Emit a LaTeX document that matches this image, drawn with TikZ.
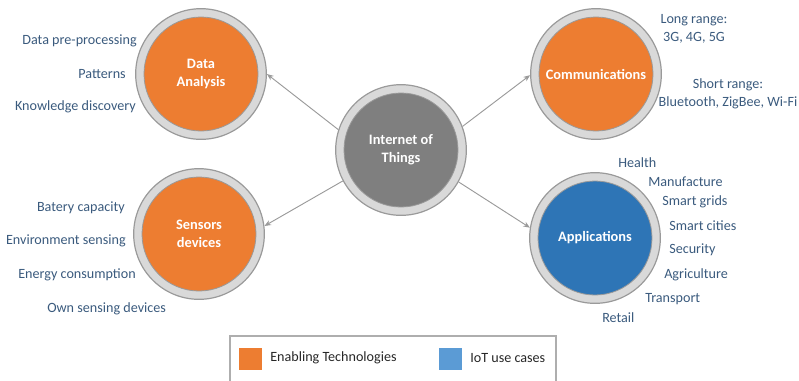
\documentclass[tikz,border=0pt]{standalone}
\usepackage{fontspec}
\setmainfont{Carlito}
\usepackage{tikz}
\usetikzlibrary{arrows.meta,positioning}

\definecolor{ringgray}{HTML}{D9D9D9}
\definecolor{ringline}{HTML}{9A9A9A}
\definecolor{techorange}{HTML}{ED7D31}
\definecolor{appblue}{HTML}{2E75B6}
\definecolor{legblue}{HTML}{5B9BD5}
\definecolor{hubgray}{HTML}{7F7F7F}
\definecolor{labelblue}{HTML}{3A5A7D}

\tikzset{
  ring/.style={circle,draw=ringline,line width=0.9pt,fill=ringgray,minimum size=98pt,inner sep=0pt},
  core/.style={circle,draw=ringline,line width=0.6pt,minimum size=85.5pt,inner sep=0pt,
               text=white,font=\fontsize{10.8}{13.5}\selectfont\bfseries,align=center},
  item/.style={text=labelblue,font=\fontsize{10.6}{13.5}\selectfont,inner sep=0pt},
  link/.style={draw=ringline,line width=0.7pt,-{Stealth[length=5pt,width=4pt]}},
  legkey/.style={minimum width=17pt,minimum height=16.5pt,inner sep=0pt},
}

\begin{document}
\begin{tikzpicture}[x=0.75pt,y=-0.75pt]
	\useasboundingbox (0,0) rectangle (799,380);
	% circles
	\node[ring] (iot) at (401,150) {};
	\node[core,fill=hubgray] (iotin) at (401,150) {Internet of\\Things};
	\node[ring] (data) at (201,74) {};
	\node[core,fill=techorange] (datain) at (201,74) {Data\\Analysis};
	\node[ring] (sens) at (199,234) {};
	\node[core,fill=techorange] (sensin) at (199,234) {Sensors\\devices};
	\node[ring] (comm) at (596,74) {};
	\node[core,fill=techorange] (commin) at (596,74) {Communications};
	\node[ring] (apps) at (595,238) {};
	\node[core,fill=appblue] (appsin) at (595,238) {Applications};
	% links
	\draw[link] (iot.162) -- (data.0);
	\draw[link] (iot.208) -- (sens.7);
	\draw[link] (iot.21) -- (comm.181);
	\draw[link] (iot.331) -- (apps.171);
	% data analysis
	\node[item,anchor=east] (pre) at (137,41) {Data pre-processing};
	\node[item,anchor=east] (pat) at (126,74) {Patterns};
	\node[item,anchor=east] (know) at (136,107) {Knowledge discovery};
	% sensors
	\node[item,anchor=east] (bat) at (125,208) {Batery capacity};
	\node[item,anchor=east] (env) at (126,241) {Environment sensing};
	\node[item,anchor=east] (ener) at (136,275) {Energy consumption};
	\node[item,anchor=west] (own) at (47,309) {Own sensing devices};
	% communications
	\node[item,align=center] (long) at (694,29) {Long range:\\3G, 4G, 5G};
	\node[item,align=center] (short) at (728,94) {Short range:\\Bluetooth, ZigBee, Wi-Fi};
	% applications
	\node[item,anchor=west] (health) at (618,163) {Health};
	\node[item,anchor=west] (manu) at (648,182) {Manufacture};
	\node[item,anchor=west] (grids) at (662,202) {Smart grids};
	\node[item,anchor=west] (cities) at (669,226) {Smart cities};
	\node[item,anchor=west] (secu) at (669,250) {Security};
	\node[item,anchor=west] (agri) at (664,275) {Agriculture};
	\node[item,anchor=west] (trans) at (645,299) {Transport};
	\node[item,anchor=west] (retail) at (602,318) {Retail};
	% legend
	\draw[draw=ringline!80,line width=0.8pt] (230,384) -- (230,336) -- (556,336) -- (556,384);
	\node[legkey,fill=techorange] (keytech) at (250.5,359) {};
	\node[item,text=black!85,anchor=west] (tech) at (270,358) {Enabling Technologies};
	\node[legkey,fill=legblue] (keyuse) at (450.5,359) {};
	\node[item,text=black!85,anchor=west] (use) at (470,358) {IoT use cases};
\end{tikzpicture}
\end{document}
